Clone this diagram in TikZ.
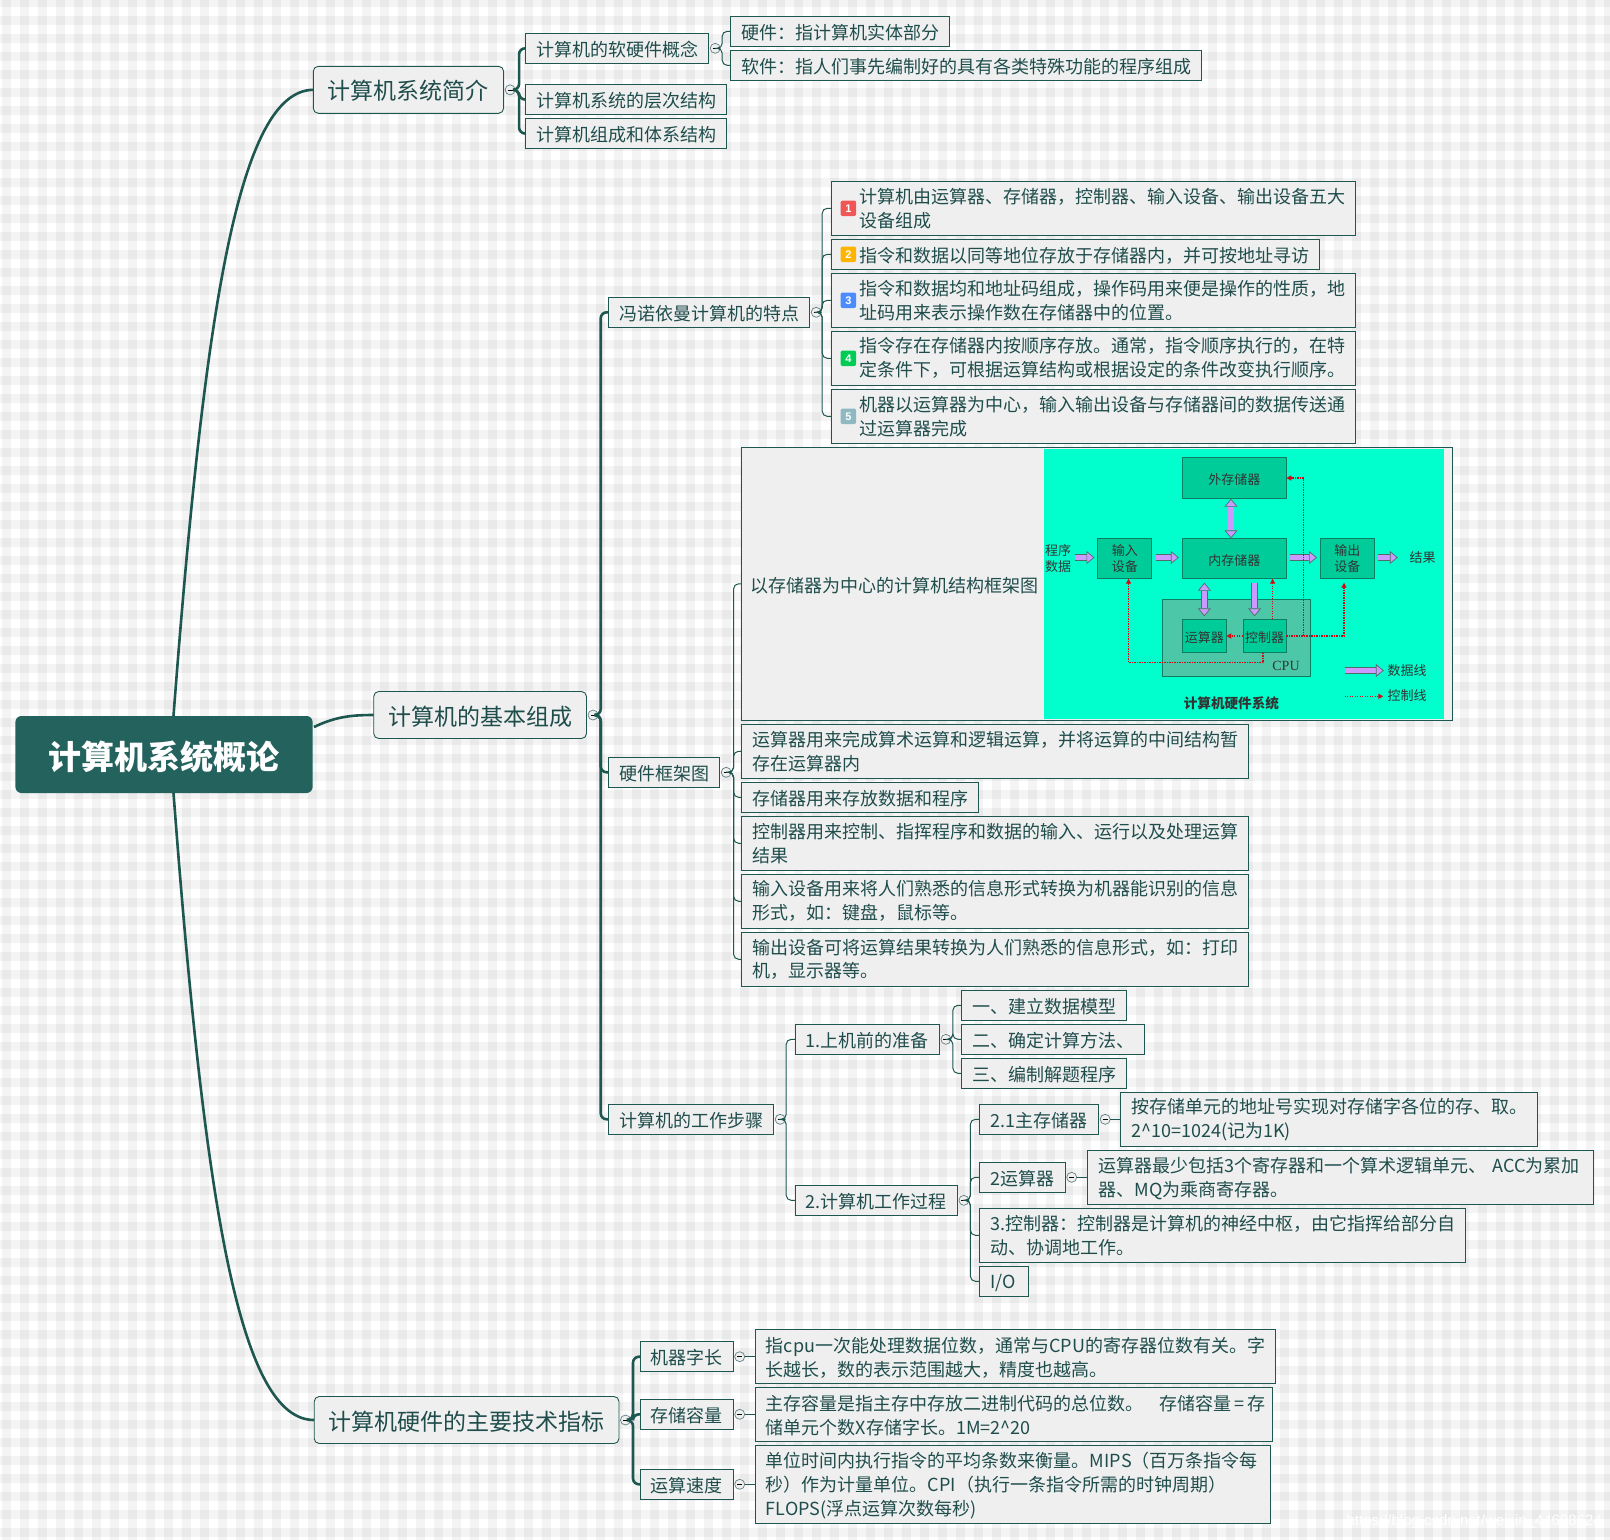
\documentclass[tikz,border=0pt]{standalone}
\usepackage{fontspec}
\usepackage{xcolor}
\usepackage{tikz}
\usetikzlibrary{arrows.meta,positioning,calc}
\setmainfont{Noto Sans CJK SC}
\newfontfamily\capfont{Liberation Serif}
\newfontfamily\markfont{Liberation Sans}
\definecolor{ink}{HTML}{1F4D4C}
\definecolor{linkteal}{HTML}{1E5650}
\definecolor{rootteal}{HTML}{24625E}
\definecolor{boxpale}{HTML}{EFEFEF}
\definecolor{foldblue}{HTML}{5F7F85}
\definecolor{screen}{HTML}{00FFCC}
\definecolor{unitfill}{HTML}{00CC99}
\definecolor{unitedge}{HTML}{0B7F62}
\definecolor{cpufill}{HTML}{4CC8A8}
\definecolor{busfill}{HTML}{CC99FF}
\definecolor{busedge}{HTML}{4F6F65}
\definecolor{ctrlred}{HTML}{D00A14}
\definecolor{mark1}{HTML}{F05656}
\definecolor{mark2}{HTML}{FFB400}
\definecolor{mark3}{HTML}{4D8CFF}
\definecolor{mark4}{HTML}{00CC55}
\definecolor{mark5}{HTML}{8FB8C0}
\newcommand{\gutter}{\hspace*{17pt}}
\tikzset{
  band/.style={fill=black,fill opacity=.045},
  rootbox/.style={rounded corners=6pt,fill=rootteal,text=white,font=\fontsize{33}{38}\selectfont\bfseries,outer sep=0pt,execute at begin node=\rule{0pt}{33pt}},
  branch/.style={draw=linkteal,rounded corners=5pt,fill=boxpale,text=ink,line width=.9pt,font=\fontsize{23}{28}\selectfont,outer sep=0pt,minimum height=47pt,inner sep=0pt,execute at begin node=\rule{0pt}{22pt}},
  tag/.style={draw=linkteal,fill=boxpale,text=ink,line width=.9pt,font=\fontsize{18}{24}\selectfont,outer sep=0pt,inner xsep=10.6pt,inner ysep=0pt,minimum height=30pt,align=left,execute at begin node=\rule{0pt}{18pt}},
  para/.style={tag,minimum height=54pt},
  para3/.style={tag,minimum height=78pt},
  under/.style={below=4pt of #1.south west,anchor=north west},
  fold/.style={circle,minimum size=10pt,inner sep=0pt,draw=foldblue,fill=boxpale,line width=.7pt,outer sep=0pt},
  trunk/.style={color=linkteal,line width=2.6pt,rounded corners=6pt},
  major/.style={color=linkteal,line width=2.6pt},
  twig/.style={color=linkteal,line width=1pt,rounded corners=5pt},
  badge/.style={rounded corners=2pt,minimum size=15.5pt,inner sep=0pt,text=white,font=\markfont\fontsize{11}{11}\selectfont\bfseries},
  unit/.style={draw=unitedge,fill=unitfill,line width=.9pt,outer sep=0pt,inner sep=0pt,font=\fontsize{13}{15.5}\selectfont,text=black!80,align=center,execute at begin node=\rule{0pt}{15pt}},
  caption/.style={inner sep=0pt,font=\fontsize{13}{16.5}\selectfont,text=black!80,align=center},
  bus/.style={draw=busedge,double=busfill,double distance=5.5pt,line width=.7pt},
  bustip/.tip={Triangle[length=8pt,width=13pt,fill=busfill,color=busedge,line width=.7pt]},
  ctrl/.style={color=ctrlred,line width=1.3pt,dash pattern=on 1.3pt off 1.2pt,-{Stealth[length=5pt,width=5pt,inset=0pt]}},
}
\begin{document}
\begin{tikzpicture}[x=1pt,y=-1pt]
  \useasboundingbox (0,0) rectangle (1610,1540);
  \fill[white] (0,0) rectangle (1610,1540);
  \foreach \i in {0,...,89} \fill[band] ({2+18*\i},0) rectangle ({11+18*\i},1540);
  \foreach \j in {0,...,86} \fill[band] (0,{-2+18*\j}) rectangle (1610,{7+18*\j});

  \node[rootbox,anchor=north west,minimum width=297.2pt,minimum height=77pt] (root) at (15.4,716) {计算机系统概论};
  \node[branch,anchor=north west,minimum width=190.3pt] (intro) at (313.3,66.3) {计算机系统简介};
  \node[branch,anchor=north west,minimum width=212.8pt] (basic) at (373.7,691.5) {计算机的基本组成};
  \node[branch,anchor=north west,minimum width=304.8pt] (metric) at (314.2,1396.5) {计算机硬件的主要技术指标};
  \coordinate (rootup) at ($(root.north)+(9.5,0)$);
  \coordinate (rootdown) at ($(root.south)+(9.5,0)$);
  \coordinate (rootside) at (314,727);
  \draw[major] (rootup) .. controls (205,300) and (240,90.5) .. (intro.west);
  \draw[major] (rootside) .. controls (335,717) and (350,715) .. (basic.west);
  \draw[major] (rootdown) .. controls (205,1210) and (240,1420) .. (metric.west);

  % system intro
  \node[fold,right=1.5pt of intro] (foldintro) {\rule{5pt}{.6pt}};
  \node[tag,anchor=north west] (concept) at (525.5,33.3) {计算机的软硬件概念};
  \node[tag,anchor=north west] (layer) at (525.5,84.5) {计算机系统的层次结构};
  \node[tag,under=layer] (organ) {计算机组成和体系结构};
  \node[fold,right=1.5pt of concept] (foldconcept) {\rule{5pt}{.6pt}};
  \node[tag,anchor=north west] (hard) at (730.6,16.3) {硬件：指计算机实体部分};
  \node[tag,under=hard] (soft) {软件：指人们事先编制好的具有各类特殊功能的程序组成};
  \foreach \kid in {concept,layer,organ} \draw[trunk] (foldintro.east) -- ++(4,0) |- (\kid.west);
  \foreach \kid in {hard,soft} \draw[twig] (foldconcept.east) -- ++(2,0) |- (\kid.west);

  % basic parts
  \node[fold,right=1.5pt of basic] (foldbasic) {\rule{5pt}{.6pt}};
  \node[tag,anchor=north west] (neumann) at (608.5,297.3) {冯诺依曼计算机的特点};
  \node[tag,anchor=north west] (frame) at (608.5,757.3) {硬件框架图};
  \node[tag,anchor=north west] (steps) at (608.5,1104.3) {计算机的工作步骤};
  \foreach \kid in {neumann,frame,steps} \draw[trunk] (foldbasic.east) -- ++(2.7,0) |- (\kid.west);

  \node[fold,right=1.5pt of neumann] (foldneumann) {\rule{5pt}{.6pt}};
  \node[para,anchor=north west] (vn1) at (831.4,181.3) {\gutter 计算机由运算器、存储器，控制器、输入设备、输出设备五大\\\gutter 设备组成};
  \node[tag,under=vn1] (vn2) {\gutter 指令和数据以同等地位存放于存储器内，并可按地址寻访};
  \node[para,under=vn2] (vn3) {\gutter 指令和数据均和地址码组成，操作码用来便是操作的性质，地\\\gutter 址码用来表示操作数在存储器中的位置。};
  \node[para,under=vn3] (vn4) {\gutter 指令存在存储器内按顺序存放。通常，指令顺序执行的，在特\\\gutter 定条件下，可根据运算结构或根据设定的条件改变执行顺序。};
  \node[para,under=vn4] (vn5) {\gutter 机器以运算器为中心，输入输出设备与存储器间的数据传送通\\\gutter 过运算器完成};
  \foreach \kid in {vn1,vn2,vn3,vn4,vn5} \draw[twig] (foldneumann.east) -- ++(1,0) |- (\kid.west);
  \foreach \kid/\n in {vn1/1,vn2/2,vn3/3,vn4/4,vn5/5}
    \node[badge,fill=mark\n,right=9pt of \kid.west] (mark\n) {\n};

  % hardware frame
  \node[fold,right=1.5pt of frame] (foldframe) {\rule{5pt}{.6pt}};
  \node[tag,anchor=north west,minimum width=710.9pt,minimum height=273pt] (figbox) at (741.6,447.3) {};
  \node[inner sep=0pt,anchor=west,text=ink,font=\fontsize{18}{24}\selectfont] (figtext) at (750.2,586) {以存储器为中心的计算机结构框架图};
  \node[anchor=north west,fill=screen,minimum width=400pt,minimum height=269.7pt,outer sep=0pt] (figscreen) at (1043.8,449) {};
  \node[para,under=figbox] (alutext) {运算器用来完成算术运算和逻辑运算，并将运算的中间结构暂\\存在运算器内};
  \node[tag,under=alutext] (memtext) {存储器用来存放数据和程序};
  \node[para,under=memtext] (ctltext) {控制器用来控制、指挥程序和数据的输入、运行以及处理运算\\结果};
  \node[para,under=ctltext] (intext) {输入设备用来将人们熟悉的信息形式转换为机器能识别的信息\\形式，如：键盘，鼠标等。};
  \node[para,under=intext] (outtext) {输出设备可将运算结果转换为人们熟悉的信息形式，如：打印\\机，显示器等。};
  \foreach \kid in {figbox,alutext,memtext,ctltext,intext,outtext} \draw[twig] (foldframe.east) -- ++(2.4,0) |- (\kid.west);

  % hardware figure
  \node[unit,minimum width=103.8pt,minimum height=41.4pt] (ext) at (1234.4,478) {外存储器};
  \node[unit,minimum width=103.8pt,minimum height=40.4pt] (mem) at (1234.4,558.5) {内存储器};
  \node[unit,minimum width=54pt,minimum height=40.4pt] (in) at (1124.8,558.5) {输入\\设备};
  \node[unit,minimum width=54pt,minimum height=40.4pt] (out) at (1347.3,558.5) {输出\\设备};
  \node[unit,fill=cpufill,anchor=north west,minimum width=148.5pt,minimum height=77.3pt] (cpu) at (1162,599) {};
  \node[unit,minimum width=43.8pt,minimum height=33.4pt] (alu) at (1204.4,636) {运算器};
  \node[unit,minimum width=43.3pt,minimum height=33.4pt] (ctl) at (1264.6,636) {控制器};
  \node[caption,font=\capfont\fontsize{14}{14}\selectfont] (cpuname) at (1286,665.7) {CPU};
  \node[caption] (prog) at (1058,558.5) {程序\\数据};
  \node[caption] (res) at (1422.7,557.5) {结果};
  \node[caption] (datakey) at (1407,670.3) {数据线};
  \node[caption] (ctrlkey) at (1407,696) {控制线};
  \node[caption,font=\fontsize{13.6}{15}\selectfont\bfseries] (figname) at (1231.4,703.7) {计算机硬件系统};
  \coordinate (extbus) at ($(ext.south)+(-3.4,0)$);
  \coordinate (membus) at ($(mem.north)+(-3.4,0)$);
  \coordinate (aluup) at (alu.north |- mem.south);
  \coordinate (ctlbus) at ($(ctl.north)+(-10,0)$);
  \coordinate (ctlup) at ($(ctl.north)+(8,0)$);
  \coordinate (datastart) at (1344.5,670.5);
  \coordinate (ctrlstart) at (1344.5,696.3);
  \draw[bus,-bustip] ($(prog.east)+(3.5,-1)$) -- ($(in.west)+(-3.3,-1)$);
  \draw[bus,-bustip] ($(in.east)+(3.7,-1)$) -- ($(mem.west)+(-3.7,-1)$);
  \draw[bus,-bustip] ($(mem.east)+(3.7,-1)$) -- ($(out.west)+(-3.3,-1)$);
  \draw[bus,-bustip] ($(out.east)+(3.3,-1)$) -- ($(res.west)+(-11.7,0)$);
  \draw[bus,bustip-bustip] (extbus) -- (membus);
  \draw[bus,bustip-bustip,shorten <=4pt,shorten >=3pt] (aluup) -- (alu.north);
  \draw[bus,-bustip,shorten <=4pt,shorten >=3pt] (ctlbus |- mem.south) -- (ctlbus);
  \draw[bus,-bustip,shorten >=3.5pt] (datastart) -- (datakey.west |- datastart);
  \draw[ctrl] (ctlup) -- (ctlup |- mem.south);
  \draw[ctrl] (ctl.east) -- ++(17.2,0) |- (ext.east);
  \draw[ctrl,shorten >=4pt] (ctl.east) -| ($(out.south)+(-3.3,0)$);
  \draw[ctrl] (ctl.west) -- (alu.east);
  \draw[ctrl] ($(ctl.south)+(-1.6,0)$) -- ++(0,10) -| ($(in.south)+(3.7,0)$);
  \draw[ctrl,shorten >=4pt] (ctrlstart) -- (ctrlkey.west |- ctrlstart);

  % work steps
  \node[fold,right=1.5pt of steps] (foldsteps) {\rule{5pt}{.6pt}};
  \node[tag,anchor=north west] (prep) at (795.2,1024.3) {1.上机前的准备};
  \node[tag,anchor=north west] (run) at (795.2,1185.3) {2.计算机工作过程};
  \foreach \kid in {prep,run} \draw[twig] (foldsteps.east) -- ++(1,0) |- (\kid.west);
  \node[fold,right=1.5pt of prep] (foldprep) {\rule{5pt}{.6pt}};
  \node[tag,anchor=north west] (model) at (961.5,990.3) {一、建立数据模型};
  \node[tag,under=model] (method) {二、确定计算方法、};
  \node[tag,under=method] (coding) {三、编制解题程序};
  \foreach \kid in {model,method,coding} \draw[twig] (foldprep.east) -- ++(2,0) |- (\kid.west);
  \node[fold,right=1.5pt of run] (foldrun) {\rule{5pt}{.6pt}};
  \node[tag,anchor=north west,text width=98pt] (store) at (979.5,1104.3) {2.1主存储器};
  \node[tag,anchor=north west,text width=64.5pt] (calc) at (979.5,1162.3) {2运算器};
  \node[para,anchor=north west] (ctlnote) at (979.5,1208.3) {3.控制器：控制器是计算机的神经中枢，由它指挥给部分自\\动、协调地工作。};
  \node[tag,under=ctlnote,text width=27.8pt] (io) {I/O};
  \foreach \kid in {store,calc,ctlnote,io} \draw[twig] (foldrun.east) -- ++(1.5,0) |- (\kid.west);
  \node[fold,right=1.5pt of store] (foldstore) {\rule{5pt}{.6pt}};
  \node[para,anchor=north west] (storenote) at (1120.6,1092.3) {按存储单元的地址号实现对存储字各位的存、取。\\2\textasciicircum 10=1024(记为1K)};
  \node[fold,right=1.5pt of calc] (foldcalc) {\rule{5pt}{.6pt}};
  \node[para,anchor=north west,text width=484.6pt] (calcnote) at (1087.8,1150.3) {运算器最少包括3个寄存器和一个算术逻辑单元、 ACC为累加\\器、MQ为乘商寄存器。};
  \draw[twig] (foldstore.east) -- (storenote.west |- foldstore);
  \draw[twig] (foldcalc.east) -- (calcnote.west |- foldcalc);

  % technical metrics
  \node[fold,right=1.5pt of metric] (foldmetric) {\rule{5pt}{.6pt}};
  \node[tag,anchor=north west] (word) at (640,1341.7) {机器字长};
  \node[tag,anchor=north west] (cap) at (640,1399.3) {存储容量};
  \node[tag,anchor=north west] (speed) at (640,1469.3) {运算速度};
  \foreach \kid in {word,cap,speed} \draw[trunk] (foldmetric.east) -- ++(2.5,0) |- (\kid.west);
  \node[fold,right=1.5pt of word] (foldword) {\rule{5pt}{.6pt}};
  \node[fold,right=1.5pt of cap] (foldcap) {\rule{5pt}{.6pt}};
  \node[fold,right=1.5pt of speed] (foldspeed) {\rule{5pt}{.6pt}};
  \node[para,anchor=north west,text width=499.3pt] (wordnote) at (755.3,1329.3) {指cpu一次能处理数据位数，通常与CPU的寄存器位数有关。字\\长越长，数的表示范围越大，精度也越高。};
  \node[para,under=wordnote,text width=495.9pt] (capnote) {主存容量是指主存中存放二进制代码的总位数。\hspace*{16pt}存储容量\,=\,存\\储单元个数X存储字长。1M=2\textasciicircum 20};
  \node[para3,under=capnote,text width=493.5pt] (speednote) {单位时间内执行指令的平均条数来衡量。MIPS（百万条指令每\\秒）作为计量单位。CPI（执行一条指令所需的时钟周期）\\FLOPS(浮点运算次数每秒)};
  \draw[twig] (foldword.east) -- (wordnote.west |- foldword);
  \draw[twig] (foldcap.east) -- (capnote.west |- foldcap);
  \draw[twig] (foldspeed.east) -- (speednote.west |- foldspeed);

  \node[anchor=east,inner sep=0pt,text=white,font=\markfont\fontsize{15}{15}\selectfont] (mark) at (1602,1522) {https://blog.csdn.net/weixin\_44698624};
\end{tikzpicture}
\end{document}
